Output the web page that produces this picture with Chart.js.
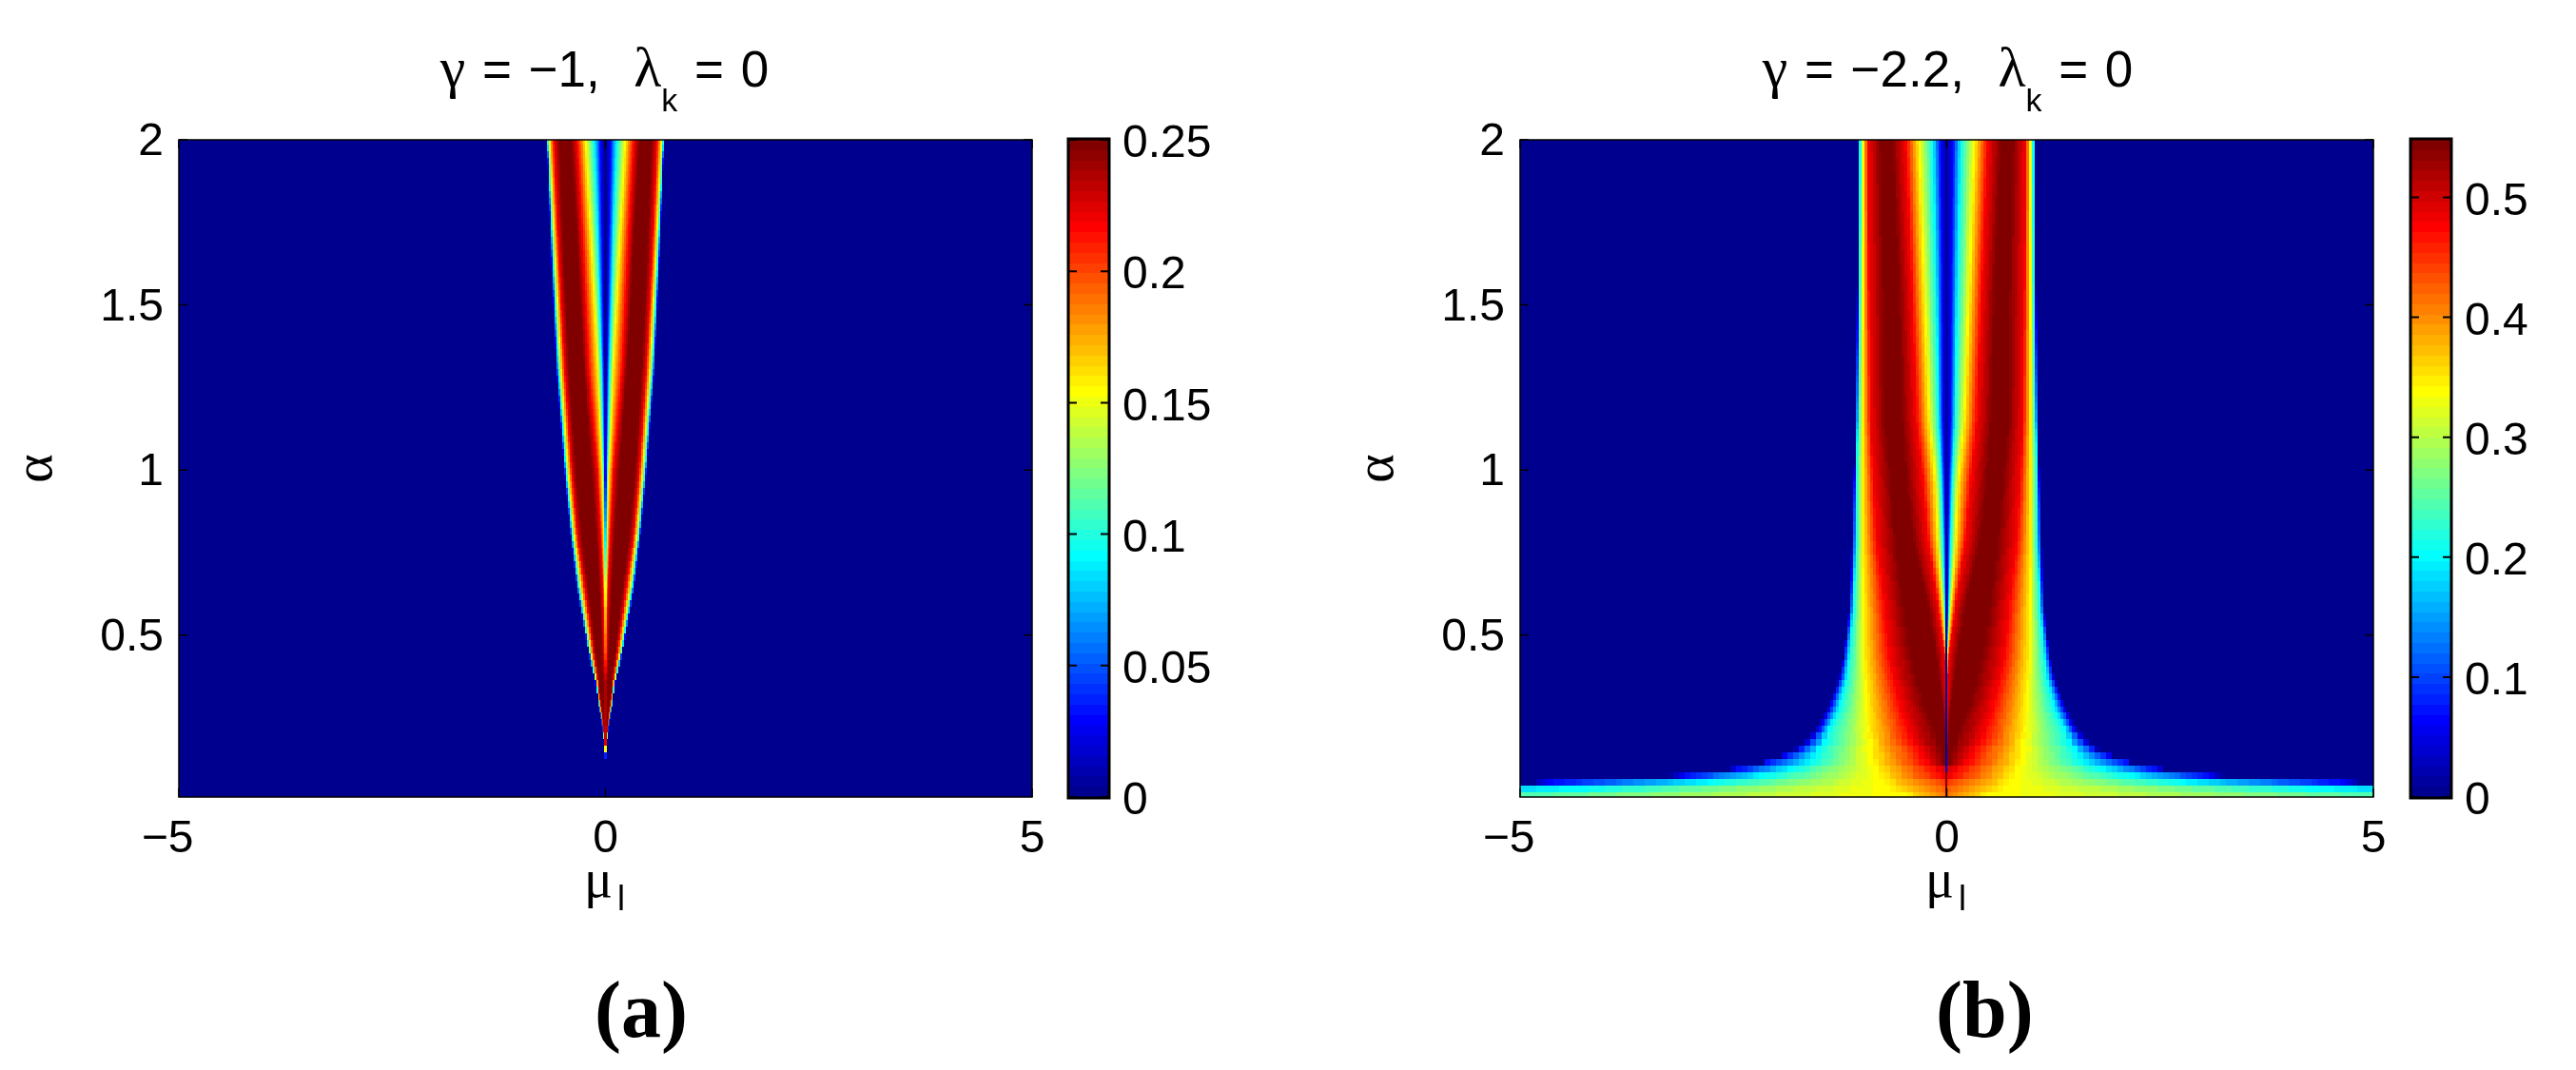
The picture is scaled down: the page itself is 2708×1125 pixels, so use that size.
<!DOCTYPE html>
<html><head><meta charset="utf-8">
<script src="https://cdn.jsdelivr.net/npm/chart.js@4"></script>
<style>
html,body{margin:0;padding:0;background:#fff;width:2708px;height:1125px;overflow:hidden}
canvas{position:absolute;top:0}
.t{position:absolute;white-space:nowrap;color:#000;font-family:"Liberation Sans",sans-serif;line-height:1}
.ttl{font-size:53px;word-spacing:3px;top:41px}
.ttl .g{font-size:60px}
.ttl .k{font-size:34px;position:relative;top:26px}
.g{font-family:"Liberation Serif",serif}
.s{position:absolute;font-family:"Liberation Sans",sans-serif}
.cap{font-family:"Liberation Serif",serif;font-weight:bold;font-size:84px}
</style></head><body>
<canvas id="heatA" width="1110" height="1125" style="left:0"></canvas>
<canvas id="barA" width="190" height="1125" style="left:1110px"></canvas>
<canvas id="heatB" width="1110" height="1125" style="left:1410px"></canvas>
<canvas id="barB" width="190" height="1125" style="left:2518px"></canvas>

<div class="t ttl" style="left:0;width:1271px;text-align:center"><span class="g">γ</span> = −1,&nbsp; <span class="g">λ</span><span class="k">k</span> = 0</div>
<div class="t ttl" style="left:0;width:4095px;text-align:center"><span class="g">γ</span> = −2.2,&nbsp; <span class="g">λ</span><span class="k">k</span> = 0</div>
<div class="t g" style="left:614px;top:896px;font-size:56px">μ<span class="s" style="font-size:36px;left:35px;top:31px">l</span></div>
<div class="t g" style="left:2024px;top:896px;font-size:56px">μ<span class="s" style="font-size:36px;left:35px;top:31px">l</span></div>
<div class="t cap" style="left:625px;top:1020px">(a)</div>
<div class="t cap" style="left:2035px;top:1020px">(b)</div>

<script>
// ---- axis ticks and ranges
const muRange = [-5, 5];
const alphaRange = [0.01, 2];
const muTicks = [-5, 0, 5];
const muTickLabels = ['−5', '0', '5'];
const alphaTicks = [0.5, 1, 1.5, 2];
const alphaTickLabels = ['0.5', '1', '1.5', '2'];
const barTicksA = [0, 0.05, 0.1, 0.15, 0.2, 0.25];
const barLabelsA = ['0', '0.05', '0.1', '0.15', '0.2', '0.25'];
const barTicksB = [0, 0.1, 0.2, 0.3, 0.4, 0.5];
const barLabelsB = ['0', '0.1', '0.2', '0.3', '0.4', '0.5'];
const vmaxA = 0.25;
const vmaxB = 0.548;

// ---- contour levels (fraction of colour range) read across the right half of each row,
//      from the centre outwards to the edge of the lobe
const levelFrac = [0.12, 0.375, 0.625, 0.875, 1, 1, 0.875, 0.625, 0.375, 0.12, 0];

// ---- panel (a): alpha rows, centre-column value, and mu position of each level
const alphaRowsA = [2, 1.65, 1.3, 0.978, 0.8, 0.631, 0.445, 0.35, 0.255, 0.205, 0.175, 0.155, 0.135, 0.115, 0.01];
const centreFracA = [0, 0, 0.03, 0.12, 0.35, 0.62, 0.8, 0.95, 0.95, 0.92, 0.9, 0.62, 0.15, 0, 0];
const muRowsA = [
 [.06,.14,.24,.34,.41,.54,.61,.66,.683,.69,.695],
 [.037,.089,.167,.267,.334,.49,.553,.594,.622,.638,.645],
 [.019,.045,.093,.204,.26,.427,.483,.527,.557,.575,.583],
 [.007,.019,.037,.093,.167,.345,.395,.436,.462,.477,.484],
 [.005,.01,.02,.055,.12,.28,.335,.37,.395,.41,.415],
 [.004,.006,.011,.026,.074,.2,.241,.285,.313,.33,.337],
 [.003,.005,.008,.016,.04,.115,.145,.172,.19,.2,.205],
 [.002,.003,.005,.008,.02,.07,.086,.101,.11,.118,.125],
 [.001,.002,.003,.004,.01,.03,.04,.048,.053,.057,.06],
 [.001,.001,.002,.003,.006,.015,.02,.024,.026,.028,.03],
 [0,0,.001,.002,.004,.01,.013,.016,.018,.02,.022],
 [0,0,0,.001,.002,.005,.007,.009,.011,.013,.015],
 [0,0,0,0,0,0,0,0,0,0,0],
 [0,0,0,0,0,0,0,0,0,0,0],
 [0,0,0,0,0,0,0,0,0,0,0]
];

// ---- panel (b)
const alphaRowsB = [2, 1.58, 1.152, 0.958, 0.79, 0.58, 0.438, 0.37, 0.274, 0.216, 0.175, 0.155, 0.135, 0.115, 0.095, 0.075, 0.055, 0.035, 0.015];
const centreFracB = [0.02, 0.02, 0.02, 0.02, 0.02, 0.02, 0.03, 0.03, 0.03, 0.03, 0.03, 0.03, 0.04, 0.05, 0.06, 0.99, 0.99, 0.99, 0.99];
const muRowsB = [
 [.074,.174,.334,.49,.657,.768,.928,.984,1.02,1.032,1.04],
 [.052,.137,.278,.423,.583,.731,.917,.984,1.028,1.047,1.054],
 [.045,.1,.212,.36,.546,.713,.898,.991,1.047,1.065,1.073],
 [.026,.063,.137,.286,.49,.638,.861,.991,1.065,1.088,1.095],
 [.015,.045,.111,.23,.416,.583,.824,.991,1.065,1.102,1.12],
 [.01,.022,.045,.1,.23,.49,.73,.98,1.10,1.136,1.15],
 [.004,.006,.007,.026,.137,.397,.676,.973,1.148,1.203,1.215],
 [.003,.004,.005,.008,.1,.342,.62,.954,1.18,1.25,1.275],
 [0,.001,.002,.004,.045,.23,.527,.935,1.27,1.381,1.418],
 [0,0,.001,.002,.026,.137,.453,.917,1.381,1.492,1.548],
 [0,0,0,.001,.015,.09,.397,.898,1.437,1.622,1.678],
 [0,0,0,0,.01,.05,.304,.898,1.492,1.733,1.789],
 [0,0,0,0,.005,.025,.27,.88,1.529,1.9,1.956],
 [0,0,0,0,0,.02,.23,.861,1.585,2.123,2.179],
 [-.5,-.5,-.5,-.5,-.4,-.3,.119,.824,1.826,2.457,2.569],
 [-.9,-.9,-.9,-.9,-.8,-.7,.045,.787,2.123,3.088,3.274],
 [-1.4,-1.4,-1.4,-1.4,-1.3,-1.2,-.216,.75,2.717,4.647,4.87],
 [-1.9,-1.9,-1.9,-1.9,-1.8,-1.7,-.44,.676,4.24,9,10],
 [-2.4,-2.4,-2.4,-2.4,-2.3,-2.2,-.43,.49,6.5,14,16]
];

// ---- build chart points from the tables
function meshPoints(alphas, table, centres, vmax) {
  const pts = [];
  alphas.forEach((a, r) => {
    pts.push({x: 0, y: a, v: centres[r] * vmax});
    table[r].forEach((mu, k) => pts.push({x: mu, y: a, v: levelFrac[k] * vmax}));
  });
  return pts;
}

function jetRGB(f) {
  const i = Math.max(0, Math.min(63, Math.floor(f * 64)));
  const x = (i + 1) / 64;
  const c = t => Math.round(255 * Math.max(0, Math.min(1, t)));
  return [c(Math.min(4*x-1.5, -4*x+4.5)), c(Math.min(4*x-0.5, -4*x+3.5)), c(Math.min(4*x+0.5, -4*x+2.5))];
}

const heatMesh = {
  id: 'heatMesh',
  beforeDatasetsDraw(chart) {
    const o = chart.options.plugins.heatMesh;
    const ds = chart.data.datasets[0];
    const rows = [];
    let cur = null;
    ds.data.forEach(p => {
      if (!cur || cur.a !== p.y) { cur = {a: p.y, m: [], v: []}; rows.push(cur); }
      cur.m.push(p.x); cur.v.push(p.v);
    });
    const {left, right, top, bottom} = chart.chartArea;
    const W = Math.round(right - left), H = Math.round(bottom - top);
    const xs = chart.scales.x, ys = chart.scales.y;
    const ctx = chart.ctx;
    const img = ctx.createImageData(W, H);
    const x0 = xs.getPixelForValue(0);
    const rowAt = a => {
      if (a >= rows[0].a) return rows[0];
      for (let i = 0; i < rows.length - 1; i++) {
        if (a <= rows[i].a && a >= rows[i+1].a) {
          const t = (rows[i].a - a) / (rows[i].a - rows[i+1].a);
          return {m: rows[i].m.map((q, k) => q + (rows[i+1].m[k] - q) * t),
                  v: rows[i].v.map((q, k) => q + (rows[i+1].v[k] - q) * t)};
        }
      }
      return rows[rows.length - 1];
    };
    const perPx = Math.abs(xs.getValueForPixel(left + 1) - xs.getValueForPixel(left));
    const sample = (row, d) => {
      const m = row.m, v = row.v;
      for (let k = 1; k < m.length; k++) {
        if (m[k] >= d) {
          const span = m[k] - m[k-1];
          return span <= 0 ? v[k] : v[k-1] + (v[k] - v[k-1]) * (d - m[k-1]) / span;
        }
      }
      return 0;
    };
    let lastKey = null, row = null;
    for (let j = 0; j < H; j++) {
      const a = ys.getValueForPixel(top + j + 0.5);
      const q = 0.015 + 0.02 * Math.round((a - 0.015) / 0.02);
      if (q !== lastKey) { row = rowAt(q); lastKey = q; }
      const col = q > 0.2 ? o.colPxHigh : o.colPxLow;
      for (let i = 0; i < W; i++) {
        const sx = left + i + 0.5 - x0;
        let dpx = Math.abs(sx);
        let val;
        if (sx >= o.centreSpan[0] && sx <= o.centreSpan[1]) {
          val = row.v[0];
        } else {
          if (dpx > 6) dpx = (Math.floor(dpx / col) + 0.5) * col;
          val = sample(row, dpx * perPx);
        }
        const rgb = jetRGB(val / o.vmax);
        const p = (j * W + i) * 4;
        img.data[p] = rgb[0]; img.data[p+1] = rgb[1]; img.data[p+2] = rgb[2]; img.data[p+3] = 255;
      }
    }
    ctx.putImageData(img, left, top);
  },
  afterDraw(chart) {
    const {left, right, top, bottom} = chart.chartArea;
    const ctx = chart.ctx, xs = chart.scales.x, ys = chart.scales.y;
    ctx.save();
    ctx.strokeStyle = '#000';
    ctx.lineWidth = 1.5;
    ctx.strokeRect(left, top, right - left, bottom - top);
    ctx.beginPath();
    xs.ticks.forEach(t => {
      const p = xs.getPixelForValue(t.value);
      ctx.moveTo(p, bottom); ctx.lineTo(p, bottom - 9);
      ctx.moveTo(p, top); ctx.lineTo(p, top + 9);
    });
    ys.ticks.forEach(t => {
      const p = ys.getPixelForValue(t.value);
      ctx.moveTo(left, p); ctx.lineTo(left + 9, p);
      ctx.moveTo(right, p); ctx.lineTo(right - 9, p);
    });
    ctx.stroke();
    ctx.restore();
  }
};

function heatChart(id, alphas, table, centres, vmax, colPxHigh, colPxLow, centreSpan) {
  return new Chart(document.getElementById(id), {
    type: 'scatter',
    data: {datasets: [{label: 'mesh', data: meshPoints(alphas, table, centres, vmax), pointRadius: 0, showLine: false}]},
    plugins: [heatMesh],
    options: {
      responsive: false, animation: false, events: [],
      layout: {padding: {top: 147, right: 25, left: 0, bottom: 0}},
      plugins: {legend: {display: false}, tooltip: {enabled: false}, title: {display: false},
                heatMesh: {vmax, colPxHigh, colPxLow, centreSpan}},
      scales: {
        x: {type: 'linear', min: muRange[0], max: muRange[1], position: 'bottom',
            afterBuildTicks: s => { s.ticks = muTicks.map(v => ({value: v})); },
            afterFit: s => { s.height = 287; s.paddingLeft = 0; s.paddingRight = 0; },
            grid: {display: false, drawTicks: false}, border: {display: false},
            ticks: {color: '#000', maxRotation: 0, autoSkip: false, padding: 16,
                    font: {family: 'Liberation Sans', size: 48},
                    callback: v => { const i = muTicks.indexOf(v); return v < 0 ? muTickLabels[i] + '\u2002' : muTickLabels[i]; }}},
        y: {type: 'linear', min: alphaRange[0], max: alphaRange[1], position: 'left',
            afterBuildTicks: s => { s.ticks = alphaTicks.map(v => ({value: v})); },
            afterFit: s => { s.width = 188; s.paddingTop = 0; s.paddingBottom = 0; },
            grid: {display: false, drawTicks: false}, border: {display: false},
            title: {display: true, text: 'α', color: '#000', font: {family: 'Liberation Serif', size: 58}, padding: {top: 4, bottom: 0}},
            ticks: {color: '#000', autoSkip: false, padding: 16, labelOffset: 3,
                    font: {family: 'Liberation Sans', size: 48},
                    callback: v => alphaTickLabels[alphaTicks.indexOf(v)]}}
      }
    }
  });
}

const barFrame = {
  id: 'barFrame',
  afterDraw(chart) {
    const {left, right, top, bottom} = chart.chartArea;
    const ctx = chart.ctx, ys = chart.scales.y;
    ctx.save();
    ctx.strokeStyle = '#000';
    ctx.lineWidth = 2;
    ctx.beginPath();
    ys.ticks.forEach(t => {
      const p = ys.getPixelForValue(t.value);
      ctx.moveTo(left, p); ctx.lineTo(left + 8, p);
      ctx.moveTo(right, p); ctx.lineTo(right - 8, p);
    });
    ctx.stroke();
    ctx.lineWidth = 3;
    ctx.strokeRect(left - 1, top - 1, right - left + 2, bottom - top + 2);
    ctx.restore();
  }
};

function barChart(id, vmax, ticks, labels, padLeft) {
  return new Chart(document.getElementById(id), {
    type: 'bar',
    data: {labels: ['scale'], datasets: [{
      label: 'colour scale', data: [[0, vmax]], barPercentage: 1, categoryPercentage: 1,
      backgroundColor: c => {
        const a = c.chart.chartArea;
        if (!a) return '#000090';
        const g = c.chart.ctx.createLinearGradient(0, a.bottom, 0, a.top);
        for (let i = 0; i < 64; i++) {
          const col = 'rgb(' + jetRGB((i + 0.5) / 64).join(',') + ')';
          g.addColorStop(i / 64, col); g.addColorStop((i + 1) / 64, col);
        }
        return g;
      }
    }]},
    plugins: [barFrame],
    options: {
      responsive: false, animation: false, events: [],
      layout: {padding: {top: 147, left: padLeft, right: 0, bottom: 0}},
      plugins: {legend: {display: false}, tooltip: {enabled: false}},
      scales: {
        x: {display: false, afterFit: s => { s.height = 287; }, grid: {display: false}},
        y: {type: 'linear', min: 0, max: vmax, position: 'right',
            afterBuildTicks: s => { s.ticks = ticks.map(v => ({value: v})); },
            afterFit: s => { s.width = 190 - padLeft - 41; s.paddingTop = 0; s.paddingBottom = 0; },
            grid: {display: false, drawTicks: false}, border: {display: false},
            ticks: {color: '#000', autoSkip: false, padding: 15, labelOffset: 5,
                    font: {family: 'Liberation Sans', size: 48},
                    callback: v => labels[ticks.indexOf(v)]}}
      }
    }
  });
}

heatChart('heatA', alphaRowsA, muRowsA, centreFracA, vmaxA, 2, 2, [-1.1, 1.1]);
heatChart('heatB', alphaRowsB, muRowsB, centreFracB, vmaxB, 3, 6, [-1, 0]);
barChart('barA', vmaxA, barTicksA, barLabelsA, 14);
barChart('barB', vmaxB, barTicksB, barLabelsB, 17);
</script>
</body></html>
